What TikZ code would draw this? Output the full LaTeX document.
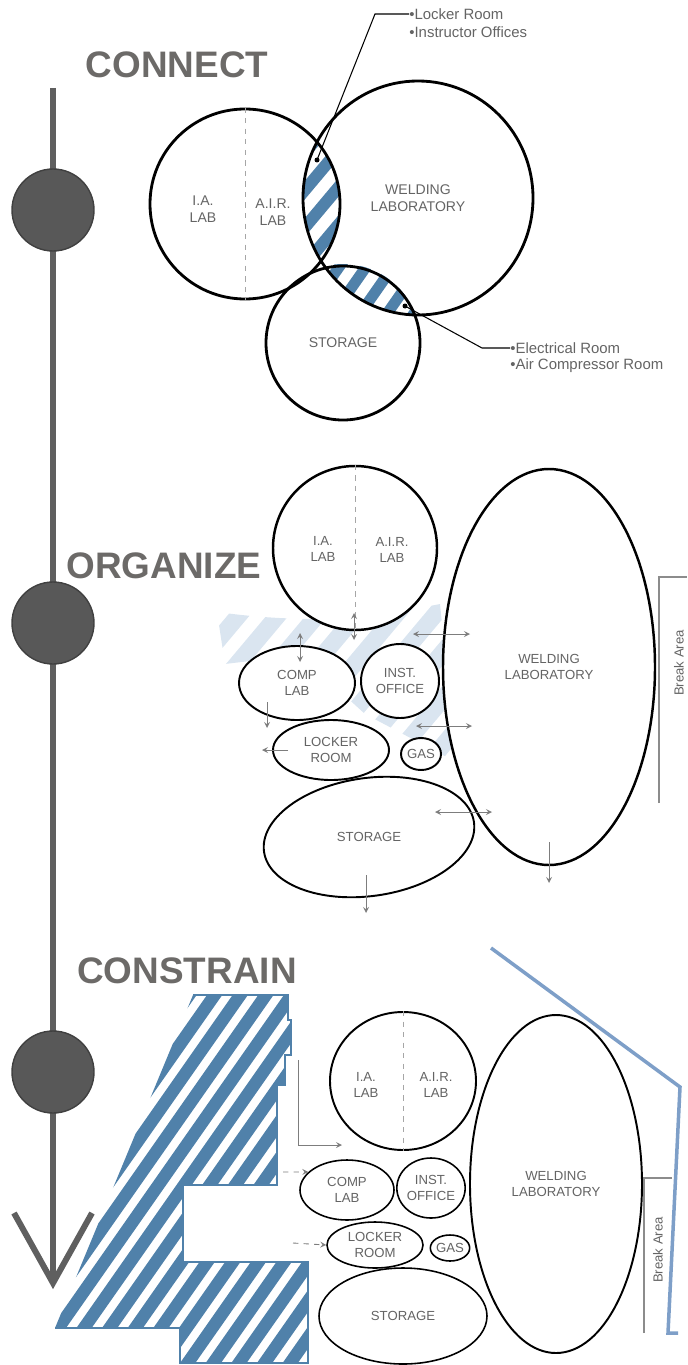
\documentclass[tikz,border=0pt]{standalone}
\usepackage{fontspec}
\setmainfont{Liberation Sans}
\usetikzlibrary{shapes.geometric}

\definecolor{stripeblue}{RGB}{80,129,170}
\definecolor{paleblue}{RGB}{218,229,240}
\definecolor{lineblue}{RGB}{126,159,200}
\definecolor{tlgray}{RGB}{95,95,95}
\definecolor{dotgray}{RGB}{88,88,88}
\definecolor{headgray}{RGB}{108,106,104}
\definecolor{labelgray}{RGB}{100,100,100}
\definecolor{arrowgray}{RGB}{125,125,125}

% stripes turned about (cx,cy): [colour]{cx}{cy}{angle}{period}{band}
\newcommand{\hatchband}[6][stripeblue]{%
  \begin{scope}[rotate around={#4:(#2,#3)}]
    \foreach \k in {-22,...,22}
      \fill[#1] (#2-450,#3+\k*#5) rectangle (#2+450,#3+\k*#5+#6);
  \end{scope}}

\begin{document}
\begin{tikzpicture}[x=0.02cm,y=-0.02cm,>=stealth,
    room/.style 2 args={draw,ellipse,inner sep=0pt,fill=white,text=labelgray,align=center,
      font=\fontsize{7.5}{9}\selectfont,minimum width=#1*0.02cm,minimum height=#2*0.02cm},
    lbl/.style={text=labelgray,align=center,font=\fontsize{7.5}{9}\selectfont},
    head/.style={text=headgray,font=\fontsize{21}{24}\selectfont\bfseries},
    milestone/.style={circle,draw=black!75,fill=dotgray,line width=0.8pt,minimum size=82*0.02cm},
    note/.style={anchor=west,inner sep=0pt,text=labelgray,font=\fontsize{8.5}{10}\selectfont},
    dot/.style={circle,fill=black,inner sep=0pt,minimum size=5*0.02cm},
    divide/.style={dashed,draw=black!35,line width=0.4pt},
    flow/.style={draw=arrowgray,line width=0.5pt},
    bracket/.style={draw=black!45,line width=0.8pt}]
  \useasboundingbox (0,0) rectangle (687,1365);

  % timeline
  \coordinate (ttop) at (53,88);
  \coordinate (ttip) at (53,1283);
  \coordinate (tipl) at (14,1213);
  \coordinate (tipr) at (92,1213);
  \draw[tlgray,line width=3.4pt] (ttop) -- (ttip);
  \draw[tlgray,line width=3.4pt] (tipl) -- (ttip) -- (tipr);
  \node[milestone] (m1) at (53,210) {};
  \node[milestone] (m2) at (53,623) {};
  \node[milestone] (m3) at (53,1072) {};

  \node[head] (connect) at (177,65) {CONNECT};
  \node[head] (organize) at (164,566) {ORGANIZE};
  \node[head] (constrain) at (187,971) {CONSTRAIN};

  % connect
  \begin{scope}
    \clip (245,204) circle (95);
    \clip (418,198) ellipse (115 and 117);
    \hatchband{320}{200}{50}{24}{12}
  \end{scope}
  \begin{scope}
    \clip (343,341) circle (77);
    \clip (418,198) ellipse (115 and 117);
    \hatchband{370}{290}{55}{22}{11}
  \end{scope}
  \node[room={190}{190},fill=none,line width=1.6pt] (ia1) at (245,204) {};
  \draw[divide] (ia1.north) -- (ia1.south);
  \node[lbl,font=\fontsize{8}{10}\selectfont] (ialab1) at (203,209) {I.A.\\LAB};
  \node[lbl,font=\fontsize{8}{10}\selectfont] (airlab1) at (273,212) {A.I.R.\\LAB};
  \node[room={230}{234},fill=none,line width=1.6pt,font=\fontsize{8}{10}\selectfont] (weld1) at (418,198) {WELDING\\LABORATORY};
  \node[room={154}{154},fill=none,line width=1.6pt,font=\fontsize{8}{10}\selectfont] (stor1) at (343,343) {STORAGE};

  \node[dot] (d1) at (317,160) {};
  \node[dot] (d2) at (405,306) {};
  \node[note] (lk1) at (409,14) {•Locker Room};
  \node[note] (lk2) at (409,32) {•Instructor Offices};
  \node[note] (el1) at (510,348) {•Electrical Room};
  \node[note] (el2) at (510,366) {•Air Compressor Room};
  \draw[line width=0.6pt] (d1.center) -- (375,14) -- (lk1.west);
  \draw[line width=0.6pt] (d2.center) -- (482,348) -- (el1.west);

  % organize
  \begin{scope}
    \clip (217,612) .. controls (320,626) and (380,616) .. (440,604) -- (456,762) -- (365,714) -- (300,655) -- (225,664) -- cycle;
    \hatchband[paleblue]{330}{680}{50}{30}{17}
  \end{scope}
  \node[room={164}{164},line width=1.4pt] (ia2) at (355,548) {};
  \draw[divide] (ia2.north) -- (ia2.south);
  \node[lbl] (ialab2) at (323,549) {I.A.\\LAB};
  \node[lbl] (airlab2) at (392,550) {A.I.R.\\LAB};
  \node[room={212}{396},line width=1.4pt] (weld2) at (549,667) {WELDING\\LABORATORY};
  \node[room={116}{74},line width=1.1pt] (comp2) at (297,683) {COMP\\LAB};
  \node[room={78}{74},line width=1.1pt] (inst2) at (400,681) {INST.\\OFFICE};
  \node[room={116}{60},line width=1.1pt] (lock2) at (331,750) {LOCKER\\ROOM};
  \node[room={40}{32},line width=1.1pt] (gas2) at (421,754) {GAS};
  \node[room={212}{118},line width=1.1pt,rotate=8] (stor2) at (369,837) {};
  \node[lbl] (storlab2) at (stor2) {STORAGE};

  \node[lbl,rotate=90] (brk2) at (679,663) {Break Area};
  \draw[bracket] (659,803) -- (659,577) -- (687,577);

  \draw[flow,<->] (300,633) -- (300,662);
  \draw[flow,<->] (354,613) -- (354,640);
  \draw[flow,<->] (413,634) -- (470,634);
  \draw[flow,<->] (416,726) -- (472,726);
  \draw[flow,->] (267,702) -- (267,728);
  \draw[flow,->] (288,750) -- (262,750);
  \draw[flow,<->] (435,812) -- (492,812);
  \draw[flow,->] (549,842) -- (549,883);
  \draw[flow,->] (366,875) -- (366,913);

  % constrain
  \begin{scope}
    \clip (193,995) -- (288,995) -- (288,1020) -- (291,1020) -- (291,1055) -- (285,1055) -- (285,1085)
      -- (277,1085) -- (277,1185) -- (183,1185) -- (183,1262) -- (308,1262) -- (308,1363)
      -- (180,1363) -- (180,1328) -- (55,1328) -- cycle;
    \hatchband{180}{1180}{55}{21}{12.5}
  \end{scope}
  \draw[stripeblue,line width=1.2pt] (55,1328) -- (180,1328) -- (180,1363) -- (308,1363) -- (308,1262)
    -- (183,1262) -- (183,1185) -- (277,1185) -- (277,1085) -- (285,1085) -- (285,1055)
    -- (291,1055) -- (291,1020) -- (288,1020) -- (288,995) -- (193,995);
  \draw[lineblue,line width=2pt] (491,948) -- (680,1087) -- (668,1333) -- (678,1333);

  \node[room={146}{138},line width=1.1pt] (ia3) at (403,1081) {};
  \draw[divide] (ia3.north) -- (ia3.south);
  \node[lbl] (ialab3) at (366,1085) {I.A.\\LAB};
  \node[lbl] (airlab3) at (436,1085) {A.I.R.\\LAB};
  \node[room={172}{338},line width=1.1pt] (weld3) at (556,1184) {WELDING\\LABORATORY};
  \node[room={94}{60},line width=0.9pt] (comp3) at (347,1190) {COMP\\LAB};
  \node[room={64}{60},line width=0.9pt] (inst3) at (431,1188) {INST.\\OFFICE};
  \node[room={96}{46},line width=0.9pt] (lock3) at (375,1245) {LOCKER\\ROOM};
  \node[room={32}{26},line width=0.9pt] (gas3) at (450,1248) {GAS};
  \node[room={168}{96},line width=0.9pt] (stor3) at (403,1316) {STORAGE};

  \node[lbl,rotate=90] (brk3) at (658,1250) {Break Area};
  \draw[bracket] (644,1333) -- (644,1178) -- (672,1178);

  \coordinate (wall) at (298,1060);
  \coordinate (entry) at (342,1145);
  \draw[flow,->] (wall) |- (entry);
  \draw[flow,dashed,->] (283,1172) -- (comp3.155);
  \draw[flow,dashed,->] (293,1243) -- (lock3.west);
\end{tikzpicture}
\end{document}
